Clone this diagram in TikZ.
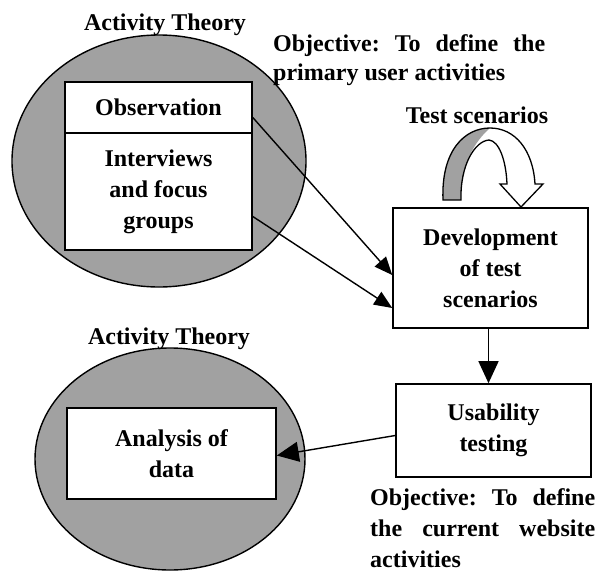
\documentclass[tikz,border=0pt]{standalone}
\usepackage{fontspec}
\setmainfont{Liberation Serif}
\usetikzlibrary{shapes.geometric,arrows.meta}
\begin{document}
\frenchspacing
\begin{tikzpicture}[x=1pt,y=-1pt,
  every node/.style={font=\fontsize{24}{31}\selectfont\bfseries},
  boxnode/.style={draw, line width=1.6pt, fill=white, align=center, inner sep=0pt},
  blob/.style={ellipse, draw, line width=1.4pt, fill=black!37, inner sep=0pt},
  conn/.style={line width=1.4pt, -{Triangle[length=18pt,width=15pt]}},
  bigconn/.style={line width=1.4pt, -{Triangle[length=22pt,width=20pt]}},
  lbl/.style={inner sep=0pt}]
\useasboundingbox (0,0) rectangle (598,571);
% circles
\node[blob, minimum width=294pt, minimum height=252pt] (c1) at (159,161) {};
\node[blob, minimum width=270pt, minimum height=222pt] (c2) at (170,459) {};
% labels
\node[lbl, anchor=base] (at1) at (165,30) {Activity Theory};
\node[lbl, anchor=base] (at2) at (169,344) {Activity Theory};
\node[lbl, anchor=base west] (o1a) at (273,51) {\makebox[272pt][s]{Objective: To define the}};
\node[lbl, anchor=base west] (o1b) at (273,80) {primary user activities};
\node[lbl, anchor=base west] (o2a) at (370,505) {\makebox[225pt][s]{Objective: To define}};
\node[lbl, anchor=base west] (o2b) at (370,536) {\makebox[225pt][s]{the current website}};
\node[lbl, anchor=base west] (o2c) at (370,567) {activities};
\node[lbl] (ts) at (477,115) {Test scenarios};
% boxes
\node[boxnode, minimum width=187pt, minimum height=51pt] (obs) at (158.5,107.5) {Observation};
\node[boxnode, minimum width=187pt, minimum height=117pt] (ivw) at (158.5,191.5) {Interviews\\and focus\\groups};
\node[boxnode, minimum width=195pt, minimum height=120pt] (dev) at (490.5,268) {Development\\of test\\scenarios};
\node[boxnode, minimum width=195pt, minimum height=93pt] (us) at (493.5,430.5) {Usability\\testing};
\node[boxnode, minimum width=209pt, minimum height=91pt] (an) at (171.5,453.5) {Analysis of\\data};
% connectors
\draw[conn] ([yshift=-10pt]obs.east) -- ([yshift=-7pt]dev.west);
\draw[conn] ([yshift=-25pt]ivw.east) -- ([yshift=-40pt]dev.west);
\draw[bigconn] ([xshift=-2pt]dev.south) -- ([xshift=-5pt]us.north);
\draw[bigconn] ([yshift=-5pt]us.west) -- ([yshift=-2pt]an.east);
% curved arrow
\begin{scope}
\clip (430,120) rectangle (490,205);
\fill[black!37] (443,200) .. controls (441,150) and (465,128) .. (490,128)
  .. controls (475,141) and (460,165) .. (461,200) -- cycle;
\end{scope}
\draw[line width=1.3pt, line join=miter] (443,200) .. controls (441,150) and (465,128) .. (490,128)
  .. controls (515,128) and (533,150) .. (535,184)
  -- (543,184) -- (521,207) -- (500,184) -- (507,184)
  .. controls (506,160) and (499,141) .. (489,140)
  .. controls (475,141) and (460,165) .. (461,200) -- cycle;
\end{tikzpicture}
\end{document}
